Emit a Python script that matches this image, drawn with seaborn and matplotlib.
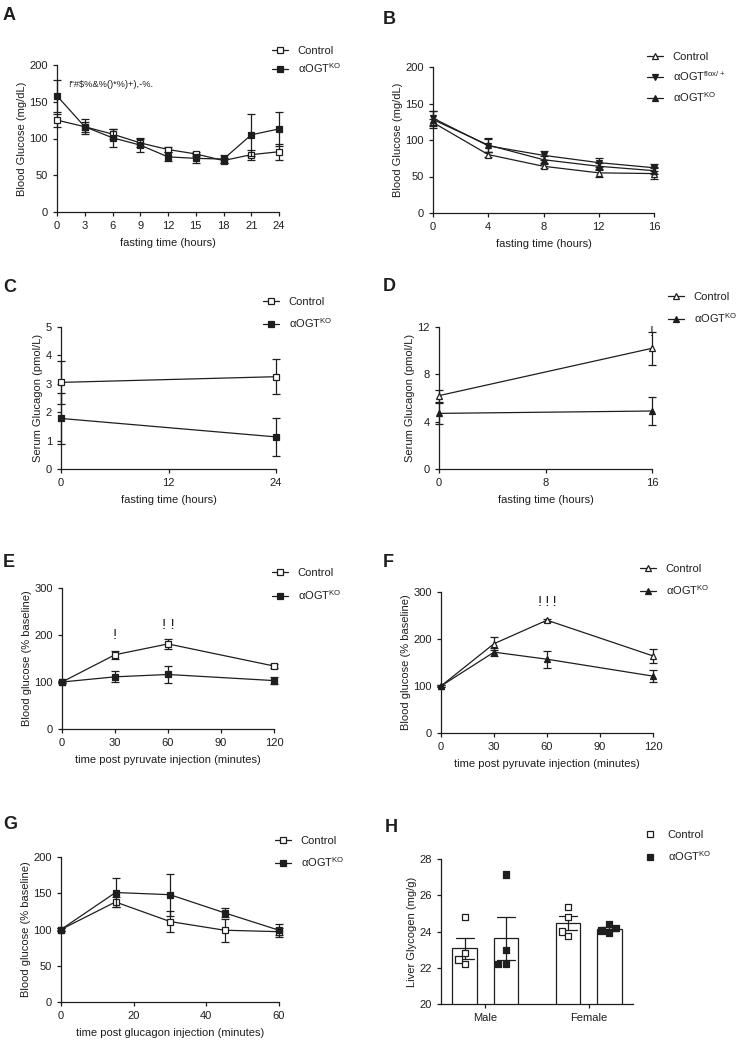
import matplotlib
matplotlib.use("Agg")
import matplotlib.pyplot as plt
import numpy as np
import pandas as pd
import seaborn as sns
from matplotlib.lines import Line2D

# ─────────────────────────────────────────────
# data (mean ± SEM)
# ─────────────────────────────────────────────
A_TIME = [0, 3, 6, 9, 12, 15, 18, 21, 24]
A_CTRL = [125, 116, 106, 94, 85, 79, 70, 78, 82]
A_CTRL_ERR = [9, 7, 7, 5, 3, 3, 3, 7, 11]
A_KO = [158, 116, 101, 91, 75, 73, 72, 105, 113]
A_KO_ERR = [22, 10, 12, 10, 6, 6, 6, 29, 23]
A_NOTE = '!"#$%&%()*%)+),-%.'

B_TIME = [0, 4, 8, 12, 16]
B_CTRL = [124, 80, 64, 55, 54]
B_CTRL_ERR = [5, 3, 3, 5, 8]
B_FLOX = [130, 92, 79, 69, 62]
B_FLOX_ERR = [10, 9, 6, 6, 5]
B_KO = [128, 93, 73, 64, 58]
B_KO_ERR = [12, 10, 5, 5, 5]

C_TIME = [0, 24]
C_CTRL = [3.05, 3.25]
C_CTRL_ERR = [0.75, 0.62]
C_KO = [1.78, 1.13]
C_KO_ERR = [0.9, 0.67]

D_TIME = [0, 16]
D_CTRL = [6.2, 10.2]
D_CTRL_ERR = [0.5, 1.4]
D_KO = [4.7, 4.9]
D_KO_ERR = [0.9, 1.2]

E_TIME = [0, 30, 60, 120]
E_CTRL = [100, 158, 181, 134]
E_CTRL_ERR = [2, 9, 11, 4]
E_KO = [100, 111, 116, 103]
E_KO_ERR = [2, 12, 19, 8]
E_STARS = ["!", "! !"]
E_STAR_X = [30, 60]
E_STAR_Y = [191, 213]

F_TIME = [0, 30, 60, 120]
F_CTRL = [100, 190, 240, 164]
F_CTRL_ERR = [2, 14, 3, 14]
F_KO = [100, 172, 157, 121]
F_KO_ERR = [2, 9, 18, 13]
F_STARS = "!\u2009!\u2009!"

G_TIME = [0, 15, 30, 45, 60]
G_CTRL = [100, 138, 111, 99, 97]
G_CTRL_ERR = [2, 7, 15, 16, 5]
G_KO = [100, 151, 148, 123, 99]
G_KO_ERR = [2, 20, 29, 6, 9]

H_SEX = ["Male"] * 8 + ["Female"] * 8
H_GROUP = (["Control"] * 4 + ["KO"] * 4) * 2
H_GLYCOGEN = [24.8, 22.8, 22.2, 22.45,
              27.15, 23.0, 22.2, 22.2,
              25.35, 24.8, 24.0, 23.75,
              23.95, 24.2, 24.4, 24.05]

CTRL_LABEL = "Control"
KO_LABEL = r"αOGT$^{\mathregular{KO}}$"
FLOX_LABEL = r"αOGT$^{\mathregular{flox/+}}$"

# ─────────────────────────────────────────────
# style
# ─────────────────────────────────────────────
sns.set_theme(style="ticks")
plt.rcParams["font.family"] = ["Liberation Sans", "DejaVu Sans"]
plt.rcParams["mathtext.fontset"] = "custom"
plt.rcParams["mathtext.rm"] = "Liberation Sans"
INK = "#1e1e1e"
plt.rcParams.update({
    "axes.edgecolor": INK, "axes.linewidth": 0.9,
    "xtick.color": INK, "ytick.color": INK,
    "xtick.labelsize": 8, "ytick.labelsize": 8,
    "xtick.major.size": 3, "ytick.major.size": 3,
    "xtick.major.width": 0.9, "ytick.major.width": 0.9,
    "axes.labelsize": 8, "axes.labelcolor": INK, "text.color": INK,
})

W, H = 740, 1042
fig = plt.figure(figsize=(W / 100, H / 100), dpi=100)


def make_ax(left, right, top, bottom):
    return fig.add_axes([left / W, 1 - bottom / H, (right - left) / W, (bottom - top) / H])


def series(ax, x, y, err, marker, filled, z=3, ms=5):
    ax.errorbar(x, y, yerr=err, fmt="none", ecolor=INK, elinewidth=0.9,
                capsize=2.6, capthick=0.9, zorder=z, clip_on=False)
    sns.lineplot(x=x, y=y, ax=ax, color=INK, lw=0.9, marker=marker, markersize=ms,
                 markerfacecolor=INK if filled else "white", markeredgecolor=INK,
                 markeredgewidth=0.9, errorbar=None, legend=False, zorder=z + 1,
                 clip_on=False)


def legend(ax, entries, x_px, y_px, spacing=0.8, line=True):
    handles, labels = [], []
    for label, marker, filled in entries:
        handles.append(Line2D([], [], color=INK, lw=0.9 if line else 0, marker=marker,
                              markersize=5, markerfacecolor=INK if filled else "white",
                              markeredgecolor=INK, markeredgewidth=0.9))
        labels.append(label)
    ax.legend(handles, labels, loc="upper left", bbox_to_anchor=(x_px / W, 1 - y_px / H),
              bbox_transform=fig.transFigure, frameon=False, fontsize=8,
              handlelength=1.4, handletextpad=0.9, labelspacing=spacing,
              borderpad=0, borderaxespad=0)


def finish(ax, xlim, xticks, ylim, yticks, xlabel, ylabel):
    ax.set_xlim(*xlim)
    ax.set_ylim(*ylim)
    ax.set_xticks(xticks)
    ax.set_yticks(yticks)
    ax.set_xlabel(xlabel, labelpad=5)
    ax.set_ylabel(ylabel, labelpad=2)
    sns.despine(ax=ax)


def panel(letter, x_px, y_px):
    fig.text(x_px / W, 1 - y_px / H, letter, fontsize=13, fontweight="bold",
             va="baseline", ha="left")


# ── A ──
ax = make_ax(57, 279, 65, 212)
series(ax, A_TIME, A_CTRL, A_CTRL_ERR, "s", False)
series(ax, A_TIME, A_KO, A_KO_ERR, "s", True, z=5)
finish(ax, (0, 24), A_TIME, (0, 200), [0, 50, 100, 150, 200],
       "fasting time (hours)", "Blood Glucose (mg/dL)")
ax.text(1.2, 170, A_NOTE, fontsize=6.7)
legend(ax, [(CTRL_LABEL, "s", False), (KO_LABEL, "s", True)], 272, 46, spacing=0.45)
panel("A", 3, 20)

# ── B ──
ax = make_ax(433, 654, 67, 213)
series(ax, B_TIME, B_CTRL, B_CTRL_ERR, "^", False)
series(ax, B_TIME, B_FLOX, B_FLOX_ERR, "v", True, z=5)
series(ax, B_TIME, B_KO, B_KO_ERR, "^", True, z=7)
finish(ax, (0, 16), B_TIME, (0, 200), [0, 50, 100, 150, 200],
       "fasting time (hours)", "Blood Glucose (mg/dL)")
legend(ax, [(CTRL_LABEL, "^", False), (FLOX_LABEL, "v", True), (KO_LABEL, "^", True)],
       647, 52, spacing=0.65)
panel("B", 383, 24)

# ── C ──
ax = make_ax(61, 276, 327, 469)
series(ax, C_TIME, C_CTRL, C_CTRL_ERR, "s", False)
series(ax, C_TIME, C_KO, C_KO_ERR, "s", True, z=5)
finish(ax, (0, 24), [0, 12, 24], (0, 5), [0, 1, 2, 3, 4, 5],
       "fasting time (hours)", "Serum Glucagon (pmol/L)")
legend(ax, [(CTRL_LABEL, "s", False), (KO_LABEL, "s", True)], 263, 297, spacing=0.85)
panel("C", 3, 292)

# ── D ──
ax = make_ax(439, 652, 327, 469)
series(ax, D_TIME, D_CTRL, D_CTRL_ERR, "^", False)
series(ax, D_TIME, D_KO, D_KO_ERR, "^", True, z=5)
finish(ax, (0, 16), [0, 8, 16], (0, 12), [0, 4, 8, 12],
       "fasting time (hours)", "Serum Glucagon (pmol/L)")
ax.text(16, 11.2, "!", fontsize=10, ha="center", va="baseline")
legend(ax, [(CTRL_LABEL, "^", False), (KO_LABEL, "^", True)], 668, 292)
panel("D", 383, 291)

# ── E ──
ax = make_ax(62, 274, 588, 729)
series(ax, E_TIME, E_CTRL, E_CTRL_ERR, "s", False)
series(ax, E_TIME, E_KO, E_KO_ERR, "s", True, z=5)
finish(ax, (0, 120), [0, 30, 60, 90, 120], (0, 300), [0, 100, 200, 300],
       "time post pyruvate injection (minutes)", "Blood glucose (% baseline)")
for s, sx, sy in zip(E_STARS, E_STAR_X, E_STAR_Y):
    ax.text(sx, sy, s, fontsize=11, ha="center", va="baseline")
legend(ax, [(CTRL_LABEL, "s", False), (KO_LABEL, "s", True)], 272, 568, spacing=0.9)
panel("E", 3, 567)

# ── F ──
ax = make_ax(441, 653, 592, 733)
series(ax, F_TIME, F_CTRL, F_CTRL_ERR, "^", False)
series(ax, F_TIME, F_KO, F_KO_ERR, "^", True, z=5)
finish(ax, (0, 120), [0, 30, 60, 90, 120], (0, 300), [0, 100, 200, 300],
       "time post pyruvate injection (minutes)", "Blood glucose (% baseline)")
ax.text(60, 271, F_STARS, fontsize=11, ha="center", va="baseline")
legend(ax, [(CTRL_LABEL, "^", False), (KO_LABEL, "^", True)], 640, 564)
panel("F", 383, 567)

# ── G ──
ax = make_ax(61, 279, 857, 1002)
series(ax, G_TIME, G_CTRL, G_CTRL_ERR, "s", False)
series(ax, G_TIME, G_KO, G_KO_ERR, "s", True, z=5)
finish(ax, (0, 60), [0, 20, 40, 60], (0, 200), [0, 50, 100, 150, 200],
       "time post glucagon injection (minutes)", "Blood glucose (% baseline)")
legend(ax, [(CTRL_LABEL, "s", False), (KO_LABEL, "s", True)], 275, 836)
panel("G", 3, 829)

# ── H ──
ax = make_ax(441, 633, 859, 1004)
dfh = pd.DataFrame({"sex": H_SEX, "group": H_GROUP, "glycogen": H_GLYCOGEN})
sns.barplot(data=dfh, x="sex", y="glycogen", hue="group", ax=ax,
            palette={"Control": "white", "KO": "white"}, edgecolor=INK, linewidth=0.9,
            errorbar="se", capsize=0.35, gap=0.4,
            err_kws={"color": INK, "linewidth": 0.9}, legend=False)
sns.swarmplot(data=dfh, x="sex", y="glycogen", hue="group", ax=ax, dodge=True,
              palette={"Control": "white", "KO": INK}, edgecolor=INK, linewidth=0.9,
              marker="s", size=4.5, legend=False)
ax.set_xlim(-0.43, 1.43)
ax.set_ylim(20, 28)
ax.set_yticks([20, 22, 24, 26, 28])
ax.set_xlabel("")
ax.set_ylabel("Liver Glycogen (mg/g)", labelpad=2)
sns.despine(ax=ax)
legend(ax, [(CTRL_LABEL, "s", False), (KO_LABEL, "s", True)], 642, 830, line=False)
panel("H", 385, 832)

fig.savefig("out.png", dpi=100)
